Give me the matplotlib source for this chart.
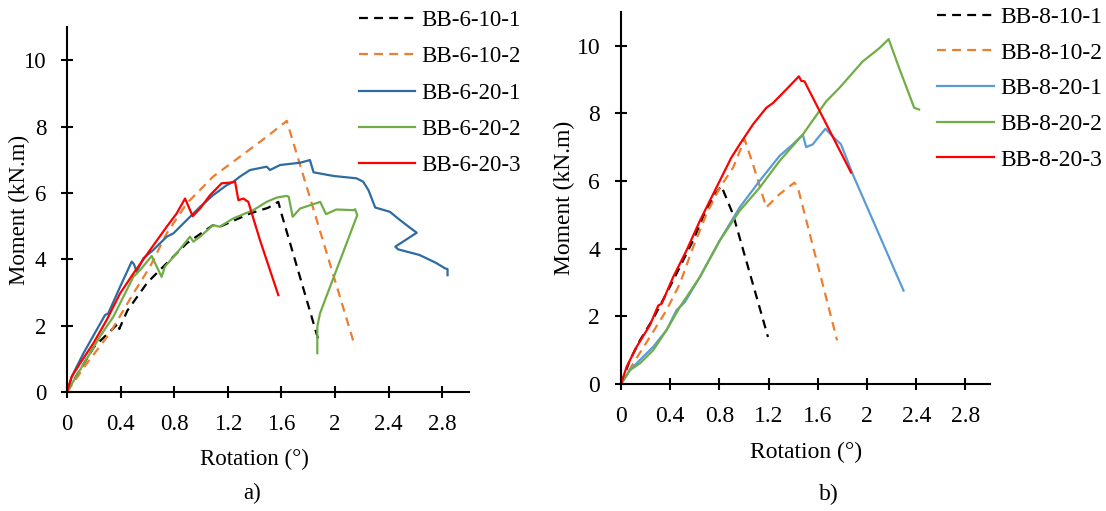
import matplotlib
matplotlib.use("Agg")
import matplotlib.pyplot as plt

plt.rcParams['font.family'] = ['Liberation Serif', 'DejaVu Serif']

# ---------------- Panel a) data ----------------
a_labels = ["BB-6-10-1", "BB-6-10-2", "BB-6-20-1", "BB-6-20-2", "BB-6-20-3"]

a1_x = [0, 0.035, 0.20, 0.383, 0.39, 0.45, 0.60, 0.744, 0.893, 1.09, 1.14, 1.366, 1.50, 1.577, 1.60, 1.876]
a1_y = [0, 0.25, 1.35, 2.07, 1.90, 2.45, 3.30, 3.88, 4.48, 5.03, 4.98, 5.38, 5.55, 5.73, 5.38, 1.57]

a2_x = [0, 0.147, 0.32, 0.495, 0.62, 0.744, 0.893, 1.09, 1.29, 1.49, 1.64, 2.149]
a2_y = [0, 0.86, 1.77, 2.97, 3.78, 4.78, 5.68, 6.49, 7.09, 7.69, 8.17, 1.37]

a3_x = [0, 0.035, 0.122, 0.221, 0.284, 0.308, 0.396, 0.483, 0.50, 0.52, 0.57, 0.644, 0.744, 0.794,
        0.893, 0.993, 1.09, 1.19, 1.24, 1.29, 1.366, 1.49, 1.515, 1.59, 1.74, 1.813, 1.84, 1.99,
        2.16, 2.21, 2.25, 2.30, 2.41, 2.47, 2.55, 2.61, 2.45, 2.47, 2.63, 2.75, 2.82, 2.84, 2.84]
a3_y = [0, 0.46, 1.16, 1.87, 2.32, 2.37, 3.17, 3.93, 3.85, 3.62, 4.03, 4.28, 4.68, 4.78,
        5.18, 5.58, 5.93, 6.23, 6.33, 6.49, 6.69, 6.79, 6.69, 6.84, 6.91, 6.99, 6.62, 6.51,
        6.44, 6.34, 6.08, 5.56, 5.43, 5.23, 4.98, 4.80, 4.38, 4.30, 4.13, 3.90, 3.73, 3.70, 3.52]

a4_x = [0, 0.097, 0.246, 0.346, 0.458, 0.495, 0.545, 0.632, 0.706, 0.731, 0.818, 0.918, 0.943, 0.993,
        1.09, 1.14, 1.24, 1.39, 1.49, 1.565, 1.64, 1.655, 1.684, 1.74, 1.89, 1.933, 2.01, 2.137,
        2.15, 2.166, 1.888, 1.868, 1.868]
a4_y = [0, 0.66, 1.67, 2.27, 3.17, 3.47, 3.67, 4.10, 3.47, 3.78, 4.18, 4.68, 4.53, 4.68,
        5.03, 4.98, 5.23, 5.48, 5.73, 5.86, 5.91, 5.88, 5.28, 5.53, 5.73, 5.36, 5.50, 5.48,
        5.51, 5.33, 2.37, 1.97, 1.17]

a5_x = [0, 0.035, 0.097, 0.197, 0.296, 0.396, 0.495, 0.62, 0.744, 0.818, 0.881, 0.938, 0.993,
        1.067, 1.154, 1.216, 1.254, 1.279, 1.316, 1.353, 1.44, 1.577]
a5_y = [0, 0.46, 0.86, 1.47, 2.17, 2.97, 3.57, 4.28, 4.98, 5.38, 5.83, 5.30, 5.53,
        5.93, 6.29, 6.31, 6.34, 5.78, 5.83, 5.73, 4.58, 2.92]

# ---------------- Panel b) data ----------------
b_labels = ["BB-8-10-1", "BB-8-10-2", "BB-8-20-1", "BB-8-20-2", "BB-8-20-3"]

b1_x = [0, 0.073, 0.154, 0.262, 0.424, 0.586, 0.695, 0.776, 0.816, 0.91, 1.195]
b1_y = [0, 0.71, 1.29, 1.93, 3.06, 4.24, 5.17, 5.66, 5.85, 5.02, 1.39]

b2_x = [0, 0.10, 0.235, 0.37, 0.478, 0.586, 0.695, 0.803, 0.911, 1.005, 1.073, 1.181, 1.289, 1.41, 1.438, 1.757]
b2_y = [0, 0.61, 1.39, 2.18, 2.96, 4.04, 5.02, 5.80, 6.39, 7.23, 6.49, 5.22, 5.61, 5.95, 5.80, 1.29]

b3_x = [0, 0.073, 0.154, 0.262, 0.37, 0.451, 0.519, 0.641, 0.803, 0.965, 1.127, 1.289, 1.397,
        1.478, 1.505, 1.559, 1.60, 1.662, 1.72, 1.789, 1.884, 2.297]
b3_y = [0, 0.41, 0.71, 1.10, 1.59, 2.18, 2.42, 3.16, 4.24, 5.22, 6.00, 6.74, 7.08,
        7.37, 7.00, 7.08, 7.27, 7.54, 7.32, 7.08, 6.20, 2.76]

b4_x = [0, 0.073, 0.154, 0.262, 0.37, 0.478, 0.641, 0.803, 0.965, 1.127, 1.289, 1.478, 1.668,
        1.776, 1.965, 2.10, 2.176, 2.262, 2.384, 2.424]
b4_y = [0, 0.41, 0.61, 1.00, 1.59, 2.27, 3.16, 4.24, 5.12, 5.80, 6.59, 7.37, 8.35,
        8.75, 9.53, 9.92, 10.19, 9.33, 8.16, 8.11]

b5_x = [0, 0.046, 0.127, 0.235, 0.303, 0.33, 0.424, 0.532, 0.641, 0.749, 0.897, 0.965, 1.073,
        1.181, 1.235, 1.343, 1.446, 1.465, 1.492, 1.87]
b5_y = [0, 0.51, 1.10, 1.74, 2.32, 2.37, 3.16, 3.94, 4.82, 5.61, 6.69, 7.08, 7.67,
        8.16, 8.30, 8.70, 9.09, 8.96, 8.94, 6.25]

x_ticks = [0, 0.4, 0.8, 1.2, 1.6, 2.0, 2.4, 2.8]
x_ticklabels = ["0", "0.4", "0.8", "1.2", "1.6", "2", "2.4", "2.8"]
y_ticks = [0, 2, 4, 6, 8, 10]

W, H = 1106, 511
fig = plt.figure(figsize=(W / 100, H / 100), dpi=100)

def px_axes(x0, x1, ytop, ybot):
    return fig.add_axes([x0 / W, 1 - ybot / H, (x1 - x0) / W, (ybot - ytop) / H])

axA = px_axes(67, 469, 27, 392)
axB = px_axes(621, 990, 11.7, 384)

dash = (0, (4, 2.8))
styleA = [dict(color="black", ls=dash), dict(color="#ED7D31", ls=dash),
          dict(color="#2E6BA3", ls="-"), dict(color="#70AD47", ls="-"), dict(color="#FF0000", ls="-")]
styleB = [dict(color="black", ls=dash), dict(color="#ED7D31", ls=dash),
          dict(color="#5B9BD5", ls="-"), dict(color="#70AD47", ls="-"), dict(color="#FF0000", ls="-")]

seriesA = [(a1_x, a1_y), (a2_x, a2_y), (a3_x, a3_y), (a4_x, a4_y), (a5_x, a5_y)]
seriesB = [(b1_x, b1_y), (b2_x, b2_y), (b3_x, b3_y), (b4_x, b4_y), (b5_x, b5_y)]

FA, FB = 16.5, 17.0

for ax, series, styles, labels, fs in [(axA, seriesA, styleA, a_labels, FA),
                                        (axB, seriesB, styleB, b_labels, FB)]:
    for (xs, ys), st, lab in zip(series, styles, labels):
        ax.plot(xs, ys, lw=1.6, label=lab, **st)
    ax.set_xlim(0, 3.0)
    ax.set_ylim(0, 11)
    ax.set_xticks(x_ticks)
    ax.set_xticklabels(x_ticklabels)
    ax.set_yticks(y_ticks)
    for s in ["top", "right"]:
        ax.spines[s].set_visible(False)
    for s in ["left", "bottom"]:
        ax.spines[s].set_linewidth(1.5)
    ax.tick_params(direction="inout", length=9, width=1.5, labelsize=fs)
    ax.tick_params(axis="x", pad=11.5)
    ax.tick_params(axis="y", pad=10.5)
    ax.set_xlabel("Rotation (°)", fontsize=fs)
    ax.set_ylabel("Moment (kN.m)", fontsize=fs)
    ax.set_facecolor("none")

axA.xaxis.set_label_coords(187 / 402, -0.156)
axA.yaxis.set_label_coords(-0.092, 0.50)
axB.xaxis.set_label_coords(185 / 369, -0.156)
axB.yaxis.set_label_coords(-0.125, 0.50)

fig.text(252 / W, 1 - 493 / H, "a)", fontsize=FA, ha="center", va="center")
fig.text(829 / W, 1 - 494 / H, "b)", fontsize=FB, ha="center", va="center")

fig.legend(handles=axA.get_lines(), labels=a_labels, loc="upper left",
           bbox_to_anchor=(350 / W, 1 - 1 / H), frameon=False, fontsize=FA,
           handlelength=2.45, handletextpad=0.25, labelspacing=0.66, borderaxespad=0)
fig.legend(handles=axB.get_lines(), labels=b_labels, loc="upper left",
           bbox_to_anchor=(928 / W, 1 + 3 / H), frameon=False, fontsize=FB,
           handlelength=2.4, handletextpad=0.25, labelspacing=0.6, borderaxespad=0)

fig.savefig("out.png", dpi=100)
